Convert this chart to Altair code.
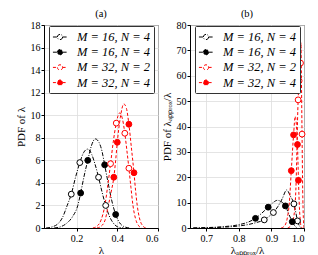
import altair as alt
import pandas as pd

SERIES = ["s1", "s2", "s3", "s4"]
LABELS = ["M = 16, N = 4", "M = 16, N = 4", "M = 32, N = 2", "M = 32, N = 4"]
STROKES = ["#000000", "#000000", "#ff0000", "#ff0000"]
FILLS = ["#ffffff", "#000000", "#ffffff", "#ff0000"]
DASHES = [[4, 1.5, 1, 1.5], [4, 1.5, 1, 1.5], [3, 2], [3, 2]]

# ---- panel (a): PDF of lambda ----
A_CURVE_X = {
    "s1": [0.05, 0.08, 0.11, 0.13, 0.154, 0.174, 0.195, 0.216, 0.235, 0.255, 0.275, 0.29, 0.308, 0.325, 0.343, 0.36, 0.38, 0.40, 0.43],
    "s2": [0.09, 0.12, 0.15, 0.18, 0.206, 0.220, 0.237, 0.255, 0.273, 0.292, 0.31, 0.325, 0.338, 0.355, 0.372, 0.392, 0.41, 0.43, 0.46],
    "s3": [0.28, 0.30, 0.32, 0.339, 0.352, 0.367, 0.38, 0.395, 0.411, 0.425, 0.437, 0.447, 0.457, 0.467, 0.477, 0.49, 0.505, 0.52],
    "s4": [0.30, 0.32, 0.34, 0.356, 0.37, 0.383, 0.392, 0.400, 0.415, 0.432, 0.445, 0.457, 0.47, 0.482, 0.49, 0.498, 0.51, 0.525, 0.54],
}
A_CURVE_Y = {
    "s1": [0, 0.1, 0.4, 0.9, 2.0, 3.0, 4.5, 5.8, 6.7, 7.0, 6.5, 5.7, 4.5, 3.2, 2.0, 1.1, 0.45, 0.12, 0],
    "s2": [0, 0.1, 0.4, 1.0, 2.0, 3.1, 4.6, 6.0, 7.3, 7.9, 7.6, 6.8, 5.6, 4.0, 2.5, 1.2, 0.5, 0.15, 0],
    "s3": [0, 0.15, 0.7, 2.0, 3.6, 5.7, 7.6, 9.3, 10.2, 9.7, 8.4, 6.9, 5.3, 3.6, 2.0, 0.8, 0.2, 0],
    "s4": [0, 0.15, 0.7, 2.0, 3.2, 4.5, 6.0, 7.6, 9.8, 11.0, 10.6, 9.2, 7.0, 4.9, 3.3, 2.0, 0.8, 0.2, 0],
}
A_MARK_X = {
    "s1": [0.174, 0.216, 0.308, 0.343],
    "s2": [0.220, 0.255, 0.338, 0.392],
    "s3": [0.367, 0.395, 0.437, 0.457],
    "s4": [0.383, 0.400, 0.457, 0.482],
}
A_MARK_Y = {
    "s1": [3.0, 5.8, 4.5, 2.0],
    "s2": [3.1, 6.0, 5.6, 1.2],
    "s3": [5.7, 9.3, 8.4, 5.3],
    "s4": [4.5, 7.6, 9.2, 4.9],
}

# ---- panel (b): PDF of lambda_approx / lambda ----
B_CURVE_X = {
    "s1": [0.66, 0.70, 0.75, 0.80, 0.83, 0.855, 0.878, 0.892, 0.906, 0.92, 0.933, 0.947, 0.958, 0.969, 0.975, 0.980, 0.986, 0.992],
    "s2": [0.66, 0.70, 0.75, 0.80, 0.83, 0.851, 0.87, 0.890, 0.905, 0.918, 0.93, 0.943, 0.953, 0.964, 0.972, 0.98],
    "s3": [0.95, 0.96, 0.968, 0.975, 0.982, 0.985, 0.9893, 0.9905, 0.992, 0.994, 0.996, 0.998, 1.0],
    "s4": [0.93, 0.94, 0.948, 0.955, 0.961, 0.968, 0.973, 0.977, 0.980, 0.983, 0.986, 0.989, 0.992, 0.995],
}
B_CURVE_Y = {
    "s1": [0, 0.1, 0.3, 0.8, 1.4, 2.2, 3.2, 4.5, 6.1, 8.5, 11.5, 15.0, 12.6, 9.5, 6.0, 2.8, 0.8, 0],
    "s2": [0, 0.15, 0.5, 1.3, 2.4, 3.8, 5.8, 8.2, 10.0, 10.9, 10.4, 8.7, 5.6, 2.5, 0.8, 0],
    "s3": [0, 1, 4, 15, 50.5, 58, 65, 73, 60, 37, 15, 4, 0],
    "s4": [0, 0.8, 3.5, 10, 22.6, 36.7, 44, 40, 32.9, 18.8, 8, 2.3, 0.3, 0],
}
B_MARK_X = {
    "s1": [0.878, 0.906, 0.969, 0.980],
    "s2": [0.851, 0.890, 0.943, 0.964],
    "s3": [0.982, 0.985, 0.9893, 0.994],
    "s4": [0.961, 0.968, 0.980, 0.983],
}
B_MARK_Y = {
    "s1": [3.2, 6.1, 9.5, 2.8],
    "s2": [3.8, 8.2, 8.7, 2.5],
    "s3": [50.5, 58, 65, 37],
    "s4": [22.6, 36.7, 32.9, 18.8],
}

A_XTICKS = [0.2, 0.4, 0.6]
A_YTICKS = list(range(0, 19, 2))
B_XTICKS = [0.7, 0.8, 0.9, 1.0]
B_YTICKS = list(range(0, 81, 10))

FONT = "Liberation Serif"
SYMBOL = "M -1 0 H -0.37 M 0.37 0 H 1 M 0.37 0 A 0.37 0.37 0 1 1 -0.37 0 A 0.37 0.37 0 1 1 0.37 0 Z"
PAD = "\u00a0\u00a0"

label_expr = " : ".join(
    f"datum.value == '{s}' ? '{l}{PAD}'" for s, l in zip(SERIES[:-1], LABELS[:-1])
) + f" : '{LABELS[-1]}{PAD}'"


def frame(xd, yd):
    rows = []
    for s in SERIES:
        for x, y in zip(xd[s], yd[s]):
            rows.append({"series": s, "x": x, "y": y})
    return pd.DataFrame(rows)


def legend():
    return alt.Legend(
        title=None, orient="none", legendX=5, legendY=1, padding=3,
        strokeColor="#333333", fillColor="white", cornerRadius=1,
        symbolType=SYMBOL, symbolSize=200, symbolStrokeWidth=1, symbolOpacity=1,
        labelFont=FONT, labelFontStyle="italic", labelFontSize=12.5, labelOffset=9,
        labelExpr=label_expr, rowPadding=0.2, labelColor="black",
    )


def panel(cx, cy, mx, my, xdom, xticks, ydom, yticks, xtitle, ytitle, title):
    xs = alt.Scale(domain=xdom, nice=False, zero=False)
    ys = alt.Scale(domain=ydom, nice=False)
    xa = alt.Axis(values=xticks, title=xtitle, format=".1f", labelOverlap=False, tickSize=3,
                  labelPadding=2, titlePadding=1,
                  labelFont=FONT, titleFont=FONT, labelFontSize=10, titleFontSize=11, titleFontWeight="normal")
    ya = alt.Axis(values=yticks, title=ytitle, labelOverlap=False, tickSize=3,
                  labelPadding=1, titlePadding=4,
                  labelFont=FONT, titleFont=FONT, labelFontSize=10, titleFontSize=11, titleFontWeight="normal")
    sscale = alt.Scale(domain=SERIES, range=STROKES)
    fscale = alt.Scale(domain=SERIES, range=FILLS)
    lines = alt.Chart(frame(cx, cy)).mark_line(interpolate="monotone", strokeWidth=1, clip=True).encode(
        x=alt.X("x:Q", scale=xs, axis=xa),
        y=alt.Y("y:Q", scale=ys, axis=ya),
        stroke=alt.Stroke("series:N", scale=sscale, legend=legend()),
        strokeDash=alt.StrokeDash("series:N", scale=alt.Scale(domain=SERIES, range=DASHES), legend=None),
    )
    points = alt.Chart(frame(mx, my)).mark_point(shape="circle", size=34, strokeWidth=1, opacity=1, filled=True).encode(
        x=alt.X("x:Q", scale=xs, axis=xa),
        y=alt.Y("y:Q", scale=ys, axis=ya),
        stroke=alt.Stroke("series:N", scale=sscale, legend=legend()),
        fill=alt.Fill("series:N", scale=fscale, legend=legend()),
    )
    return alt.layer(lines, points).properties(
        width=114, height=203,
        title=alt.TitleParams(title, font=FONT, fontSize=10.5, fontWeight="normal", offset=1,
                              anchor="middle", frame="group", color="black"),
    )


left = panel(A_CURVE_X, A_CURVE_Y, A_MARK_X, A_MARK_Y, [0.04, 0.6], A_XTICKS, [0, 18], A_YTICKS,
             "λ", "PDF of λ", "(a)")
right = panel(B_CURVE_X, B_CURVE_Y, B_MARK_X, B_MARK_Y, [0.65, 1.0], B_XTICKS, [0, 80], B_YTICKS,
              "λₐₚₚᵣₒₓ/λ", "PDF of λₐₚₚᵣₒₓ/λ", "(b)")

chart = alt.hconcat(left, right, spacing=32, bounds="flush").resolve_scale(
    x="independent", y="independent", fill="independent",
    stroke="independent", strokeDash="independent",
).resolve_legend(fill="independent", stroke="independent").configure(
    padding={"left": 6, "top": 0, "right": 2, "bottom": 0}, font=FONT,
).configure_title(
    font=FONT, fontWeight="normal", fontSize=10.5, color="black",
).configure_axis(
    labelColor="black", titleColor="black",
    gridColor="#dddddd", gridWidth=0.8, tickColor="black",
    domainColor="black",
).configure_view(stroke="black", strokeWidth=1)

chart.save("out.html", embed_options={"renderer": "svg", "actions": False})
